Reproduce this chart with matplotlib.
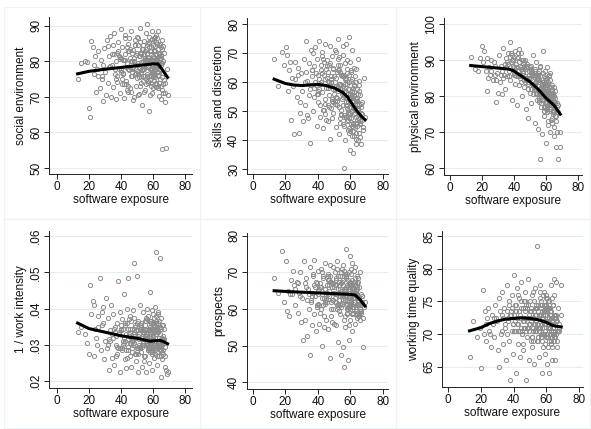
import matplotlib.pyplot as plt

plt.rcParams['font.family'] = ['Liberation Sans', 'DejaVu Sans']

# software exposure of each occupation (same x for all six outcomes)
exposure = [
    13.2, 15.4, 17.8, 19.1, 20.3, 21.0, 21.6, 22.4, 23.1, 23.9,
    24.5, 25.2, 26.0, 26.8, 27.4, 28.1, 28.7, 29.5, 30.2, 30.8,
    31.3, 31.9, 32.6, 33.0, 33.7, 34.2, 34.8, 35.3, 35.9, 36.4,
    36.9, 37.3, 37.8, 38.2, 38.7, 39.1, 39.6, 40.0, 40.5, 40.9,
    41.4, 41.8, 42.3, 42.7, 43.2, 43.6, 44.1, 44.5, 45.0, 45.5,
    45.9, 46.4, 46.8, 47.3, 47.7, 48.2, 48.6, 49.1, 49.5, 50.0,
    50.4, 50.9, 51.3, 51.8, 52.2, 52.6, 53.1, 53.5, 54.0, 54.4,
    54.9, 55.3, 55.7, 56.1, 56.5, 56.9, 57.3, 57.7, 58.0, 58.4,
    58.7, 59.0, 59.3, 59.6, 59.9, 60.2, 60.5, 60.8, 61.1, 61.4,
    61.7, 62.0, 62.3, 62.6, 62.9, 63.2, 63.5, 63.8, 64.1, 64.4,
    64.7, 65.0, 65.3, 65.6, 65.9, 66.3, 66.7, 67.2, 67.8, 68.6,
    55.9, 57.1, 58.2, 59.1, 60.0, 60.7, 61.3, 61.9, 62.8, 63.6,
    42.0, 44.8, 47.0, 49.8, 51.6, 53.3, 55.1, 56.8, 58.9, 60.4,
    34.5, 37.5, 40.2, 43.0, 46.1, 48.9, 51.1, 53.8, 57.5, 59.4,
    29.0, 32.2, 36.1, 39.4, 44.3, 47.5, 50.6, 54.7, 58.6, 62.1,
    52.9, 55.5, 57.9, 59.8, 61.6, 63.0, 64.3, 65.4, 66.0, 69.0,
    25.7, 33.4, 38.4, 41.6, 45.2, 49.3, 52.4, 56.3, 60.1, 64.9,
    46.6, 50.2, 53.7, 57.2, 59.7, 61.0, 62.4, 63.9, 65.2, 67.0,
    38.9, 40.7, 42.5, 44.0, 45.7, 47.1, 48.4, 49.7, 51.0, 52.0,
    53.0, 53.9, 54.6, 55.4, 56.0, 56.7, 57.4, 58.1, 58.8, 59.5,
    60.3, 60.9, 61.5, 62.2, 62.7, 63.3, 63.7, 64.2, 64.6, 65.1,
    43.9, 46.3, 48.0, 50.8, 52.7, 54.2, 55.8, 57.6, 59.2, 60.6,
    61.2, 61.8, 62.5, 63.1, 63.4, 64.0, 64.5, 65.5, 66.2, 67.5,
    32.8, 35.6, 37.1, 39.8, 41.2, 42.9, 44.6, 46.0, 47.9, 49.0,
    50.5, 51.5, 52.5, 53.4, 54.3, 55.0, 55.6, 56.2, 56.6, 57.0,
    57.8, 58.3, 58.5, 59.0, 59.4, 59.9, 60.1, 60.6, 61.0, 61.6,
    62.1, 62.7, 63.3, 63.8, 64.6, 65.7, 66.4, 67.4, 27.9, 22.9,
    45.4, 48.8, 51.9, 53.6, 55.2, 56.4, 58.4, 60.0, 62.9, 64.8,
    39.9, 42.4, 46.9, 49.4, 52.1, 54.8, 57.0, 59.9, 61.4, 63.7,
    36.6, 41.0, 44.4, 47.8, 50.7, 53.2, 56.0, 58.9, 61.8, 65.8,
]

social = [
    75.0, 79.5, 80.0, 79.8, 66.9, 64.3, 85.7, 84.0, 76.5, 81.5,
    71.5, 78.0, 83.0, 72.5, 80.5, 75.0, 68.8, 83.8, 77.0, 70.5,
    86.0, 74.0, 81.5, 87.2, 70.0, 79.0, 84.5, 72.8, 88.0, 76.5,
    69.5, 82.5, 74.2, 85.5, 78.0, 71.0, 80.8, 89.0, 73.6, 84.0,
    76.8, 69.8, 82.0, 87.5, 74.5, 79.5, 71.5, 85.0, 77.5, 81.0,
    72.5, 88.5, 75.8, 83.2, 69.0, 79.8, 86.0, 73.0, 81.8, 77.2,
    84.5, 70.5, 78.5, 89.5, 74.0, 82.2, 67.8, 80.0, 76.0, 85.8,
    72.0, 83.5, 79.0, 90.5, 75.5, 81.2, 66.0, 86.8, 77.8, 73.8,
    84.0, 79.2, 88.5, 71.0, 81.5, 76.2, 86.5, 74.5, 82.8, 78.5,
    87.5, 72.8, 80.2, 85.0, 77.0, 83.5, 70.2, 79.5, 84.8, 75.0,
    81.0, 69.5, 55.2, 86.0, 76.8, 73.5, 82.5, 71.0, 55.5, 78.0,
    82.0, 78.8, 74.8, 86.2, 80.5, 77.5, 84.2, 81.8, 76.2, 79.0,
    80.5, 83.0, 77.0, 75.2, 85.5, 78.0, 82.8, 74.0, 80.0, 83.2,
    82.0, 76.0, 81.0, 78.5, 80.2, 84.5, 70.8, 79.0, 85.2, 77.0,
    79.0, 84.2, 77.8, 81.2, 73.0, 78.5, 76.5, 81.0, 73.0, 80.8,
    77.5, 80.8, 83.0, 75.8, 78.0, 73.2, 80.5, 72.0, 84.2, 70.5,
    76.0, 78.8, 83.0, 73.5, 86.5, 76.8, 79.8, 75.8, 72.5, 81.8,
    80.0, 82.5, 77.8, 80.5, 75.5, 86.8, 78.5, 82.0, 79.5, 74.8,
    81.5, 75.0, 86.5, 72.0, 83.5, 78.0, 70.0, 87.0, 75.5, 82.5,
    77.5, 84.5, 71.5, 88.0, 79.5, 74.5, 85.5, 70.5, 82.0, 76.5,
    83.0, 78.0, 74.0, 86.5, 80.5, 72.5, 84.5, 77.5, 81.5, 73.0,
    84.0, 71.5, 80.0, 86.5, 76.0, 82.0, 73.5, 84.0, 79.0, 86.0,
    76.5, 82.0, 79.0, 88.5, 74.0, 81.0, 78.0, 83.5, 71.0, 68.5,
    78.5, 82.0, 75.0, 77.5, 80.5, 73.5, 83.0, 76.0, 80.0, 84.5,
    79.0, 81.5, 76.5, 83.5, 78.0, 80.5, 75.0, 82.0, 78.5, 85.0,
    80.0, 75.0, 83.0, 77.5, 80.5, 84.5, 77.0, 81.0, 75.5, 85.5,
    78.0, 81.0, 76.0, 82.5, 79.0, 75.5, 80.0, 74.0, 76.0, 79.0,
    78.5, 76.5, 81.5, 74.5, 80.0, 76.5, 80.5, 77.0, 79.5, 84.0,
    77.0, 80.5, 82.5, 78.0, 73.0, 79.5, 81.0, 79.0, 76.5, 82.0,
    80.0, 76.5, 78.0, 81.0, 79.5, 83.5, 80.0, 77.5, 73.5, 79.5,
]

skills = [
    68.0, 58.5, 70.5, 66.0, 72.0, 69.5, 56.8, 64.0, 46.8, 61.5,
    58.5, 42.0, 67.0, 55.0, 65.0, 42.5, 49.5, 63.0, 57.0, 46.5,
    68.0, 52.0, 74.0, 60.5, 47.5, 66.5, 57.5, 39.0, 71.0, 62.0,
    50.0, 65.5, 55.0, 72.0, 59.0, 45.0, 68.0, 53.0, 74.0, 61.0,
    48.0, 66.0, 56.5, 70.5, 44.0, 62.5, 52.5, 73.0, 58.0, 67.5,
    46.5, 63.5, 55.5, 72.5, 40.5, 60.0, 69.0, 49.5, 65.0, 56.0,
    71.0, 44.5, 61.5, 52.0, 75.0, 57.0, 42.0, 66.0, 48.5, 62.5,
    54.0, 69.5, 45.5, 30.5, 59.5, 40.0, 73.0, 51.0, 64.5, 43.5,
    56.0, 75.5, 47.5, 67.0, 36.5, 60.5, 52.5, 71.0, 41.5, 58.0,
    35.5, 65.0, 49.0, 44.0, 62.0, 53.5, 38.5, 57.5, 47.0, 68.0,
    51.0, 42.5, 59.0, 45.5, 55.5, 38.5, 49.5, 47.0, 43.5, 61.5,
    62.0, 48.0, 57.5, 44.0, 54.0, 50.0, 46.0, 59.0, 52.0, 40.5,
    60.0, 64.5, 51.5, 58.5, 63.5, 46.0, 55.0, 61.0, 49.0, 45.5,
    55.5, 58.0, 62.5, 50.5, 60.5, 53.5, 58.5, 47.5, 53.0, 43.0,
    53.0, 60.0, 64.0, 56.0, 49.0, 66.5, 53.5, 56.0, 50.5, 56.5,
    59.5, 62.5, 46.5, 51.5, 44.5, 49.5, 54.5, 52.0, 46.5, 48.0,
    61.0, 48.5, 60.0, 64.0, 47.0, 57.5, 68.0, 55.5, 63.5, 50.5,
    66.0, 52.5, 59.5, 48.0, 54.5, 57.0, 41.5, 45.0, 60.5, 53.0,
    63.0, 57.5, 69.0, 50.5, 65.5, 58.5, 47.5, 62.0, 70.5, 54.5,
    64.0, 49.0, 58.0, 72.5, 45.0, 61.5, 52.0, 67.5, 42.5, 56.0,
    47.5, 61.0, 43.0, 55.5, 50.5, 64.5, 45.5, 52.5, 40.0, 48.5,
    67.0, 52.0, 61.0, 55.0, 68.5, 59.0, 48.0, 63.0, 57.5, 50.0,
    56.5, 45.5, 51.0, 60.0, 42.5, 53.5, 47.5, 57.0, 51.5, 44.5,
    63.5, 59.0, 70.0, 56.0, 52.0, 68.0, 61.0, 58.0, 51.0, 64.5,
    60.0, 53.5, 66.0, 57.5, 50.5, 62.0, 58.5, 48.5, 66.5, 55.0,
    59.5, 53.0, 47.0, 62.5, 55.0, 49.5, 64.0, 54.5, 45.0, 51.0,
    58.5, 50.5, 54.0, 46.0, 56.0, 41.0, 52.5, 49.0, 62.5, 67.0,
    61.5, 54.0, 58.0, 63.5, 52.0, 57.0, 49.5, 55.5, 52.5, 50.5,
    57.0, 63.0, 60.0, 53.0, 64.0, 56.5, 61.5, 51.5, 55.0, 48.0,
    64.0, 59.5, 54.0, 62.0, 57.5, 51.5, 56.5, 60.0, 54.5, 46.0,
]

physical = [
    91.0, 87.5, 87.0, 90.5, 94.0, 89.5, 92.5, 87.0, 81.5, 85.0,
    88.0, 86.0, 90.0, 84.5, 89.5, 88.5, 78.5, 86.5, 81.0, 91.5,
    84.0, 88.5, 80.5, 93.5, 86.0, 82.0, 90.5, 88.0, 85.5, 92.0,
    87.0, 95.0, 84.5, 89.5, 91.5, 79.0, 88.5, 86.0, 92.5, 83.5,
    89.0, 77.5, 87.0, 91.0, 83.0, 88.5, 85.0, 92.0, 80.0, 86.5,
    90.0, 82.5, 87.5, 76.5, 85.0, 89.0, 83.5, 74.0, 87.0, 81.0,
    88.5, 78.0, 84.5, 91.5, 80.5, 86.5, 72.5, 83.0, 89.5, 79.0,
    71.0, 85.5, 81.5, 62.5, 88.0, 77.0, 83.5, 69.5, 80.0, 92.5,
    74.5, 83.5, 78.5, 87.0, 67.0, 81.5, 75.5, 85.0, 79.0, 72.0,
    82.5, 76.0, 84.5, 70.0, 79.5, 81.0, 73.5, 77.5, 83.0, 75.0,
    79.0, 69.0, 71.5, 81.5, 74.5, 66.0, 77.0, 70.0, 62.5, 66.0,
    84.0, 81.0, 86.5, 77.0, 83.0, 88.0, 80.0, 85.5, 78.0, 82.0,
    90.5, 87.5, 85.5, 88.0, 83.5, 87.0, 86.0, 79.5, 84.0, 78.5,
    89.0, 91.0, 86.5, 93.0, 89.5, 84.5, 86.0, 84.0, 81.0, 80.5,
    84.5, 86.0, 89.0, 90.0, 87.5, 88.0, 82.0, 80.5, 76.0, 86.0,
    86.0, 79.0, 82.5, 76.5, 80.0, 78.5, 80.5, 76.0, 78.5, 70.0,
    87.0, 85.0, 92.0, 85.5, 90.0, 86.0, 82.0, 88.5, 84.0, 82.5,
    84.5, 87.5, 85.5, 82.0, 85.0, 77.0, 86.5, 80.0, 76.0, 78.0,
    90.0, 87.5, 92.0, 85.5, 89.0, 84.0, 88.5, 85.0, 87.5, 83.5,
    86.0, 80.5, 84.5, 78.5, 87.0, 82.5, 79.0, 84.0, 76.0, 81.5,
    78.0, 82.0, 73.0, 80.5, 76.5, 79.5, 72.5, 81.0, 75.5, 78.5,
    86.0, 88.0, 84.5, 86.5, 82.5, 85.0, 80.5, 83.0, 81.0, 77.0,
    84.0, 78.5, 76.5, 80.0, 82.5, 74.0, 79.5, 76.5, 73.0, 75.5,
    87.0, 89.5, 85.5, 91.0, 88.0, 89.5, 84.0, 86.5, 88.5, 82.0,
    85.0, 86.5, 83.0, 87.5, 81.0, 84.5, 79.5, 82.0, 85.5, 80.0,
    83.0, 79.0, 81.5, 85.5, 77.0, 82.5, 80.0, 76.5, 83.5, 79.5,
    80.5, 77.0, 81.5, 78.0, 76.0, 79.5, 74.5, 77.5, 86.0, 90.5,
    87.0, 84.0, 86.0, 82.0, 85.0, 81.5, 82.5, 80.5, 79.0, 80.0,
    88.0, 85.5, 90.0, 86.0, 83.5, 86.5, 78.0, 84.5, 81.5, 77.5,
    89.0, 86.0, 88.0, 84.5, 87.0, 83.0, 84.5, 81.0, 77.5, 78.5,
]

intensity = [
    .0335, .0350, .0330, .0305, .0275, .0465, .0385, .0420, .0270, .0345,
    .0320, .0300, .0380, .0485, .0285, .0355, .0405, .0260, .0310, .0430,
    .0290, .0375, .0230, .0340, .0410, .0265, .0320, .0385, .0245, .0350,
    .0300, .0360, .0275, .0475, .0330, .0390, .0225, .0345, .0285, .0370,
    .0310, .0440, .0260, .0355, .0235, .0400, .0295, .0485, .0325, .0270,
    .0380, .0240, .0345, .0300, .0395, .0525, .0275, .0340, .0255, .0490,
    .0365, .0225, .0315, .0410, .0280, .0350, .0240, .0390, .0305, .0335,
    .0270, .0375, .0225, .0320, .0400, .0290, .0355, .0250, .0445, .0310,
    .0360, .0280, .0395, .0230, .0340, .0300, .0375, .0265, .0405, .0320,
    .0555, .0290, .0350, .0245, .0385, .0310, .0270, .0365, .0540, .0330,
    .0300, .0210, .0355, .0260, .0325, .0285, .0345, .0240, .0230, .0220,
    .0335, .0300, .0365, .0285, .0315, .0350, .0275, .0340, .0295, .0320,
    .0305, .0330, .0280, .0360, .0295, .0325, .0345, .0285, .0330, .0300,
    .0330, .0295, .0340, .0285, .0320, .0355, .0300, .0330, .0310, .0345,
    .0360, .0300, .0335, .0290, .0345, .0310, .0325, .0365, .0295, .0380,
    .0300, .0340, .0280, .0360, .0290, .0335, .0300, .0315, .0275, .0225,
    .0350, .0310, .0290, .0320, .0370, .0275, .0355, .0305, .0335, .0295,
    .0310, .0290, .0345, .0325, .0385, .0285, .0340, .0300, .0270, .0315,
    .0335, .0290, .0360, .0265, .0345, .0310, .0375, .0280, .0330, .0355,
    .0295, .0345, .0255, .0330, .0370, .0285, .0340, .0305, .0365, .0275,
    .0345, .0300, .0360, .0270, .0335, .0390, .0295, .0350, .0315, .0375,
    .0360, .0305, .0330, .0275, .0345, .0300, .0365, .0320, .0285, .0355,
    .0310, .0365, .0280, .0340, .0300, .0350, .0285, .0320, .0355, .0295,
    .0315, .0345, .0270, .0355, .0300, .0330, .0285, .0365, .0305, .0325,
    .0340, .0295, .0360, .0310, .0270, .0345, .0300, .0330, .0380, .0290,
    .0325, .0350, .0285, .0340, .0310, .0360, .0295, .0335, .0305, .0345,
    .0330, .0295, .0360, .0305, .0345, .0280, .0315, .0270, .0390, .0410,
    .0305, .0350, .0290, .0335, .0325, .0300, .0330, .0345, .0305, .0285,
    .0340, .0310, .0290, .0320, .0345, .0315, .0295, .0325, .0350, .0310,
    .0325, .0345, .0315, .0335, .0290, .0320, .0340, .0310, .0330, .0300,
]

prospects = [
    68.5, 64.5, 76.0, 62.0, 73.0, 59.5, 65.0, 58.0, 68.0, 64.0,
    70.5, 66.5, 61.0, 67.5, 59.0, 64.5, 70.0, 56.5, 63.0, 51.5,
    73.0, 57.0, 68.5, 52.5, 65.5, 60.0, 71.5, 47.5, 62.0, 55.5,
    69.0, 58.5, 73.5, 63.5, 54.0, 67.0, 61.0, 70.5, 56.0, 65.5,
    59.0, 71.0, 50.0, 64.0, 68.5, 55.0, 72.5, 62.0, 57.0, 66.5,
    69.5, 54.5, 63.5, 46.5, 72.0, 58.0, 66.0, 60.0, 71.5, 56.0,
    64.0, 68.0, 55.5, 73.0, 61.5, 51.0, 67.5, 58.5, 47.5, 65.0,
    71.0, 49.5, 62.5, 44.0, 69.5, 55.0, 76.5, 60.0, 66.5, 46.0,
    63.0, 70.0, 51.5, 74.5, 57.0, 67.0, 61.0, 72.5, 54.0, 65.5,
    59.0, 70.5, 62.0, 56.0, 67.5, 60.5, 64.5, 57.5, 69.0, 62.5,
    58.0, 66.0, 61.5, 70.0, 57.0, 64.0, 59.5, 62.0, 49.5, 60.5,
    65.0, 68.5, 60.5, 63.0, 66.0, 58.5, 61.5, 67.5, 64.0, 59.5,
    66.0, 62.5, 68.0, 64.5, 60.0, 69.0, 63.5, 58.0, 62.0, 66.5,
    64.0, 66.5, 61.5, 69.0, 64.0, 62.5, 68.5, 65.5, 69.0, 63.5,
    63.5, 67.0, 64.5, 60.5, 65.5, 67.5, 62.0, 64.5, 60.0, 65.5,
    62.5, 66.5, 59.0, 61.5, 65.0, 63.0, 67.0, 58.5, 61.5, 62.0,
    65.5, 62.5, 66.0, 60.0, 63.0, 67.0, 60.5, 69.0, 71.0, 61.0,
    65.0, 70.0, 63.5, 66.0, 60.5, 64.5, 62.0, 65.5, 58.0, 63.5,
    67.5, 61.0, 70.0, 58.0, 64.5, 69.0, 56.5, 66.0, 62.0, 71.0,
    59.5, 67.0, 63.5, 72.0, 57.0, 65.5, 61.0, 69.5, 55.5, 66.5,
    62.5, 68.0, 58.5, 65.0, 71.5, 60.0, 66.5, 63.0, 68.5, 59.0,
    63.0, 69.0, 60.0, 66.5, 62.5, 70.0, 64.0, 58.5, 67.0, 61.5,
    66.0, 60.5, 68.5, 63.5, 58.5, 66.0, 61.5, 63.0, 59.0, 57.5,
    66.0, 62.5, 69.5, 64.0, 67.0, 61.0, 65.5, 68.0, 62.0, 64.5,
    66.5, 61.0, 69.0, 63.5, 60.5, 67.5, 64.0, 70.5, 62.5, 65.5,
    61.5, 68.0, 64.5, 60.5, 66.5, 63.0, 69.5, 62.0, 65.0, 67.0,
    63.0, 66.5, 60.5, 64.0, 67.5, 59.5, 61.0, 63.5, 67.0, 64.0,
    62.0, 67.0, 64.0, 61.0, 68.0, 63.5, 66.0, 60.0, 64.5, 62.5,
    65.0, 63.0, 66.5, 62.5, 65.5, 61.5, 64.5, 67.5, 63.0, 65.0,
    63.5, 66.0, 61.5, 67.5, 63.0, 66.5, 62.0, 64.5, 66.0, 60.0,
]

working_time = [
    66.5, 72.0, 69.5, 71.0, 64.8, 76.8, 70.0, 73.5, 69.0, 72.5,
    74.0, 70.5, 68.0, 73.0, 71.5, 69.5, 74.5, 72.0, 67.5, 75.5,
    65.0, 73.5, 70.5, 76.5, 68.5, 74.0, 71.0, 66.0, 77.5, 72.5,
    69.0, 75.0, 63.0, 73.0, 70.5, 76.0, 67.0, 79.0, 72.0, 74.5,
    64.0, 71.5, 77.0, 68.5, 75.5, 66.5, 73.0, 78.0, 70.0, 74.0,
    67.5, 72.5, 76.5, 63.0, 74.5, 69.5, 78.5, 71.5, 66.0, 75.0,
    72.0, 68.0, 76.0, 70.5, 73.5, 65.5, 77.0, 71.0, 83.5, 69.0,
    74.5, 66.5, 72.5, 77.5, 69.5, 75.0, 64.0, 73.0, 68.0, 76.5,
    71.5, 74.0, 67.0, 76.0, 70.0, 73.5, 65.5, 72.0, 75.0, 69.0,
    64.0, 73.0, 70.0, 77.5, 68.5, 72.5, 66.0, 74.5, 71.0, 78.5,
    69.5, 73.0, 66.0, 72.0, 78.0, 70.5, 68.0, 74.0, 71.0, 77.5,
    71.0, 69.0, 73.5, 70.5, 74.5, 68.0, 72.5, 70.0, 73.0, 69.5,
    72.5, 70.0, 73.5, 71.5, 69.0, 74.0, 71.0, 73.0, 70.5, 72.0,
    71.5, 73.0, 70.5, 73.5, 71.0, 72.5, 69.5, 74.0, 71.5, 73.0,
    72.5, 70.0, 73.5, 71.5, 74.0, 70.5, 72.5, 69.5, 73.5, 71.0,
    73.0, 71.0, 72.0, 74.5, 70.5, 72.5, 69.0, 71.5, 70.0, 73.0,
    70.0, 72.5, 73.5, 74.5, 70.5, 73.0, 71.5, 72.0, 74.0, 71.5,
    71.0, 72.5, 70.5, 73.5, 69.5, 71.5, 74.0, 70.0, 72.5, 70.5,
    74.0, 70.5, 76.0, 72.5, 68.5, 75.0, 71.0, 73.5, 69.5, 76.5,
    71.5, 74.5, 69.0, 73.0, 75.5, 70.0, 72.5, 76.0, 68.5, 74.0,
    72.0, 69.5, 75.0, 71.0, 73.5, 68.0, 74.5, 70.5, 76.0, 72.5,
    70.5, 75.0, 72.0, 69.0, 74.0, 71.5, 76.5, 70.0, 73.5, 75.5,
    71.0, 74.0, 69.0, 72.5, 75.5, 70.0, 73.0, 69.5, 72.0, 70.5,
    73.0, 70.0, 74.5, 71.5, 73.5, 70.5, 75.0, 72.0, 74.0, 71.0,
    73.5, 70.5, 75.0, 72.0, 74.0, 69.5, 73.0, 71.0, 74.5, 70.0,
    72.5, 74.5, 70.0, 73.0, 71.5, 75.5, 69.5, 72.0, 74.0, 71.0,
    73.5, 70.5, 72.0, 74.5, 70.0, 72.5, 69.0, 71.5, 72.5, 71.5,
    72.0, 74.5, 71.0, 73.0, 70.5, 74.0, 71.5, 73.5, 70.0, 72.5,
    73.0, 71.5, 74.0, 70.5, 72.5, 73.5, 71.0, 72.0, 74.5, 71.5,
    72.0, 73.5, 71.0, 72.5, 74.0, 70.5, 73.0, 71.5, 72.0, 73.0,
]

# lowess curves
social_fit_x = [13, 20, 30, 40, 50, 60, 63, 66, 69]
social_fit_y = [76.5, 77.2, 77.8, 78.3, 78.8, 79.3, 79.3, 77.5, 75.5]
skills_fit_x = [13, 20, 25, 30, 40, 45, 50, 55, 58, 61, 64, 67, 69]
skills_fit_y = [61.0, 59.5, 59.0, 58.8, 59.2, 58.8, 58.0, 56.5, 55.0, 52.5, 50.0, 48.0, 47.0]
physical_fit_x = [13, 20, 30, 37, 40, 45, 50, 55, 60, 65, 69]
physical_fit_y = [88.5, 88.2, 87.8, 87.5, 87.0, 85.5, 84.0, 82.0, 79.5, 77.5, 75.0]
intensity_fit_x = [13, 20, 30, 40, 50, 58, 60, 64, 66, 69]
intensity_fit_y = [.0360, .0345, .0335, .0325, .0318, .0310, .0311, .0312, .0310, .0303]
prospects_fit_x = [13, 20, 30, 40, 50, 60, 63, 66, 69]
prospects_fit_y = [65.0, 64.8, 64.6, 64.4, 64.2, 64.0, 63.8, 62.5, 60.8]
working_fit_x = [13, 20, 25, 30, 35, 40, 45, 50, 55, 60, 63, 66, 69]
working_fit_y = [70.5, 71.0, 71.6, 72.0, 72.3, 72.4, 72.5, 72.4, 72.2, 71.8, 71.4, 71.2, 71.1]

panels = [
    ('social environment', social, social_fit_x, social_fit_y,
     [50, 60, 70, 80, 90], ['50', '60', '70', '80', '90']),
    ('skills and discretion', skills, skills_fit_x, skills_fit_y,
     [30, 40, 50, 60, 70, 80], ['30', '40', '50', '60', '70', '80']),
    ('physical environment', physical, physical_fit_x, physical_fit_y,
     [60, 70, 80, 90, 100], ['60', '70', '80', '90', '100']),
    ('1 / work intensity', intensity, intensity_fit_x, intensity_fit_y,
     [.02, .03, .04, .05, .06], ['.02', '.03', '.04', '.05', '.06']),
    ('prospects', prospects, prospects_fit_x, prospects_fit_y,
     [40, 50, 60, 70, 80], ['40', '50', '60', '70', '80']),
    ('working time quality', working_time, working_fit_x, working_fit_y,
     [65, 70, 75, 80, 85], ['65', '70', '75', '80', '85']),
]

W, H = 591, 429
# axes boxes in pixels: left, top, right, bottom
boxes = [(49, 17, 192, 174), (247, 18, 388, 174), (444, 18, 582, 175),
         (49, 231, 192, 388), (247, 233, 388, 389), (442, 231, 583, 387)]
xlims = [(-4.8, 84.2), (-3.7, 83.1), (-3.7, 82.6),
         (-4.8, 84.2), (-3.7, 83.1), (-3.8, 82.3)]
ylims = [(48.3, 92.5), (28.3, 82.1), (58.1, 101.7),
         (.0181, .0614), (38.1, 80.8), (61.9, 85.8)]
# faint frames around each sub-graph
cells = [(4, 7, 200, 219), (200, 7, 396, 219), (396, 7, 590, 219),
         (4, 219, 200, 428), (200, 219, 396, 428), (396, 219, 590, 428)]

fig = plt.figure(figsize=(W / 100, H / 100), dpi=100)
fig.patch.set_facecolor('white')

for (l, t, r, b) in cells:
    fig.add_artist(plt.Rectangle((l / W, 1 - b / H), (r - l) / W, (b - t) / H,
                                 transform=fig.transFigure, fill=False,
                                 edgecolor='#edf2f4', linewidth=0.8))

grey = '#8c8c8c'
for i, (name, vals, fx, fy, yt, ytl) in enumerate(panels):
    l, t, r, b = boxes[i]
    ax = fig.add_axes([l / W, 1 - b / H, (r - l) / W, (b - t) / H])
    ax.set_facecolor('white')
    ax.plot(exposure, vals, 'o', markersize=3.0, markerfacecolor='none',
            markeredgecolor=grey, markeredgewidth=0.7, zorder=2)
    ax.plot(fx, fy, '-', color='black', linewidth=2.2, zorder=3)
    ax.set_xlim(*xlims[i])
    ax.set_ylim(*ylims[i])
    ax.set_xticks([0, 20, 40, 60, 80])
    ax.set_yticks(yt)
    ax.set_yticklabels(ytl, rotation=90, va='center')
    ax.grid(axis='y', color='#e6edf0', linewidth=0.8, zorder=0)
    ax.set_axisbelow(True)
    for s in ['top', 'right']:
        ax.spines[s].set_visible(False)
    for s in ['left', 'bottom']:
        ax.spines[s].set_color('#222222')
        ax.spines[s].set_linewidth(0.7)
    ax.tick_params(length=3.5, width=0.7, color='#222222', labelsize=8.5,
                   pad=1.5, labelcolor='#111111')
    ax.set_xlabel('software exposure', fontsize=8.5, labelpad=1, color='#111111')
    ax.set_ylabel(name, fontsize=8.5, labelpad=2, color='#111111')

fig.savefig('out.png', dpi=100)
